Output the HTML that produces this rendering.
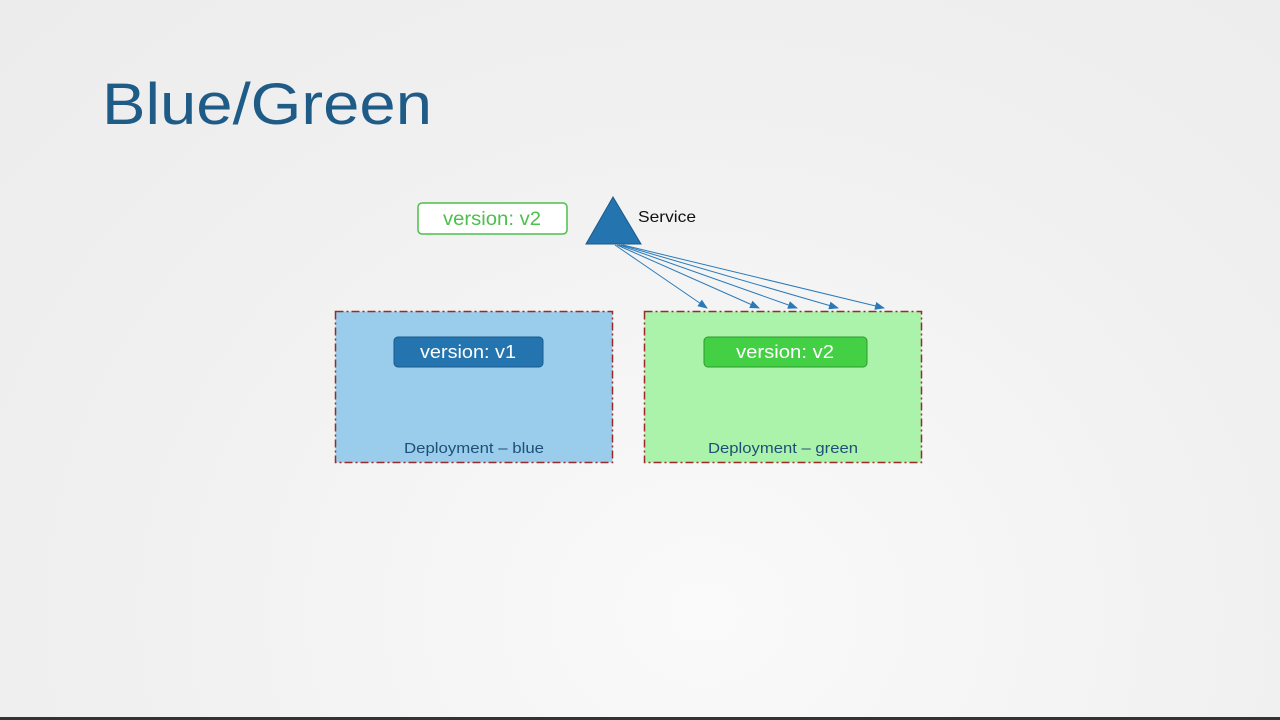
<!DOCTYPE html>
<html><head><meta charset="utf-8"><style>
html,body{margin:0;padding:0;}
body{width:1280px;height:720px;overflow:hidden;background:radial-gradient(ellipse at 55% 85%,#fafafa 0%,#f0f0f0 60%,#ececec 100%);font-family:"Liberation Sans",sans-serif;}
</style></head><body>
<svg width="1280" height="720" xmlns="http://www.w3.org/2000/svg" style="position:absolute;left:0;top:0">
<defs><marker id="a" markerWidth="10" markerHeight="8" refX="9" refY="4" orient="auto" markerUnits="userSpaceOnUse"><path d="M0,0 L10,4 L0,8 z" fill="#2a7ab8"/></marker></defs>
<text x="102" y="124" font-size="58" fill="#1f5b87" textLength="330" lengthAdjust="spacingAndGlyphs">Blue/Green</text>
<rect x="418" y="203" width="149" height="31" rx="4" fill="#fff" stroke="#4cbf4c" stroke-width="1.5"/>
<text x="443" y="225" font-size="19" fill="#4cbf4c" textLength="98" lengthAdjust="spacingAndGlyphs">version: v2</text>
<polygon points="613,197 586,244 641,244" fill="#2474b0" stroke="#1a5a8a"/>
<text x="638" y="222" font-size="16" fill="#111" textLength="58" lengthAdjust="spacingAndGlyphs">Service</text>
<g stroke="#2a7ab8" stroke-width="1" fill="none" marker-end="url(#a)">
<line x1="615" y1="245" x2="707" y2="308"/>
<line x1="617" y1="245" x2="759" y2="308"/>
<line x1="619" y1="245" x2="797" y2="308"/>
<line x1="621" y1="245" x2="838" y2="308"/>
<line x1="623" y1="245" x2="884" y2="308"/>
</g>
<rect x="335.5" y="311.5" width="277" height="151" fill="#99cdeb" stroke="#9a2b2b" stroke-width="1.5" stroke-dasharray="8,3,2,3"/>
<rect x="644.5" y="311.5" width="277" height="151" fill="#abf3ab" stroke="#9a2b2b" stroke-width="1.5" stroke-dasharray="8,3,2,3"/>
<rect x="394" y="337" width="149" height="30" rx="4" fill="#2474b0" stroke="#1a5a8a"/>
<text x="420" y="358" font-size="18" fill="#fff" textLength="96" lengthAdjust="spacingAndGlyphs">version: v1</text>
<rect x="704" y="337" width="163" height="30" rx="4" fill="#44d044" stroke="#2e9a2e"/>
<text x="736" y="358" font-size="18" fill="#fff" textLength="98" lengthAdjust="spacingAndGlyphs">version: v2</text>
<text x="404" y="453" font-size="15" fill="#1f4f78" textLength="140" lengthAdjust="spacingAndGlyphs">Deployment – blue</text>
<text x="708" y="453" font-size="15" fill="#1f4f78" textLength="150" lengthAdjust="spacingAndGlyphs">Deployment – green</text>
<rect x="0" y="717" width="1280" height="3" fill="#333"/>
</svg>
</body></html>
